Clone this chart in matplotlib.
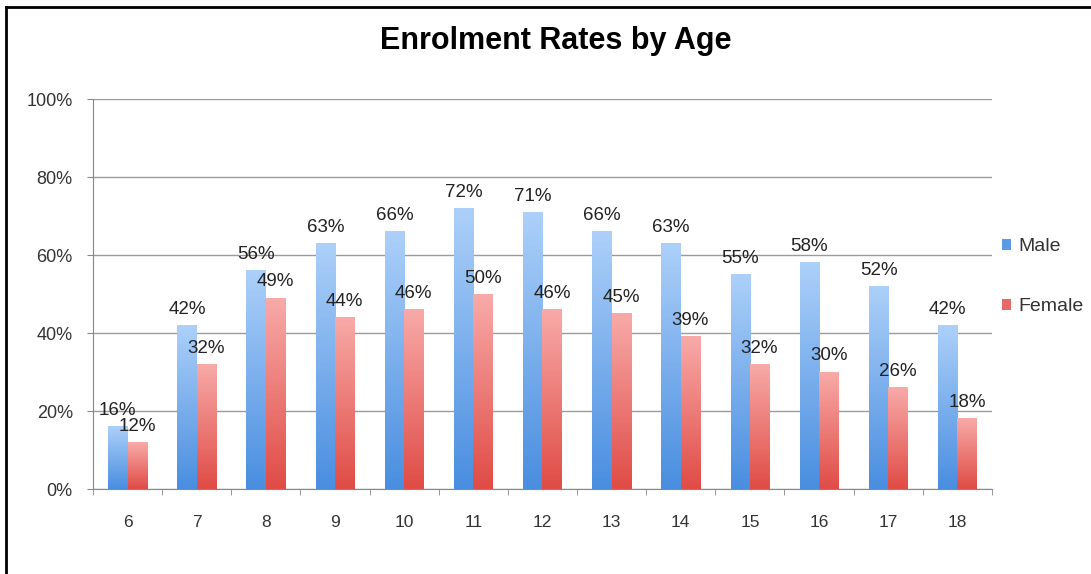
import numpy as np
import matplotlib.pyplot as plt
from matplotlib.colors import LinearSegmentedColormap
from matplotlib.lines import Line2D
from matplotlib.ticker import PercentFormatter

plt.rcParams['font.family'] = ['Liberation Sans', 'DejaVu Sans']

# Datos
edades = ['6', '7', '8', '9', '10', '11', '12', '13', '14', '15', '16', '17', '18']
hombres = [16, 42, 56, 63, 66, 72, 71, 66, 63, 55, 58, 52, 42]
mujeres = [12, 32, 49, 44, 46, 50, 46, 45, 39, 32, 30, 26, 18]
series = ['Male', 'Female']

azul = LinearSegmentedColormap.from_list('azul', ['#4a8ee0', '#acd0f9'])
rojo = LinearSegmentedColormap.from_list('rojo', ['#e04c46', '#f8aaa8'])

fig = plt.figure(figsize=(10.91, 5.74), dpi=100)
ax = fig.add_axes([0.0852, 0.148, 0.824, 0.679])

x = np.arange(len(edades))
w = 0.28
grad = np.linspace(0, 1, 100).reshape(-1, 1)

for vals, dx, cmap, col, nombre in [(hombres, -w / 2, azul, '#5b9be6', series[0]),
                                    (mujeres, w / 2, rojo, '#e86a66', series[1])]:
    barras = ax.bar(x + dx, vals, w, color=col, label=nombre, zorder=2)
    for b, v in zip(barras, vals):
        x0, y0 = b.get_x(), b.get_y()
        x1, y1 = x0 + b.get_width(), y0 + b.get_height()
        ax.imshow(grad, cmap=cmap, extent=[x0, x1, y0, y1], origin='lower',
                  aspect='auto', zorder=3)
        ax.annotate(f'{v}%', (b.get_x() + b.get_width() / 2, v),
                    xytext=(0, 5.5), textcoords='offset points',
                    ha='center', va='bottom', fontsize=13.5, color='#222222', zorder=5)

ax.set_xlim(-0.5, len(edades) - 0.5)
ax.set_ylim(0, 100)
ax.set_yticks(np.arange(0, 101, 20))
ax.yaxis.set_major_formatter(PercentFormatter(decimals=0))
ax.set_xticks(x)
ax.set_xticklabels(edades)
ax.set_xticks(np.arange(-0.5, len(edades), 1), minor=True)
ax.tick_params(axis='x', which='major', length=0, pad=19, labelsize=12.5, labelcolor='#333333')
ax.tick_params(axis='x', which='minor', length=4, color='#888888')
ax.tick_params(axis='y', length=4, color='#888888', pad=10.5, labelsize=13, labelcolor='#333333')
ax.grid(True, axis='y', color='#9a9a9a', linewidth=1, zorder=0)
ax.set_axisbelow(True)
for s in ['top', 'right']:
    ax.spines[s].set_visible(False)
for s in ['left', 'bottom']:
    ax.spines[s].set_color('#888888')

fig.suptitle('Enrolment Rates by Age', x=0.509, y=0.955, fontsize=22, fontweight='bold')

ax.legend(loc='center left', bbox_to_anchor=(1.0, 0.545), frameon=False, fontsize=14,
          labelcolor='#333333', handlelength=0.5, handleheight=0.5, handletextpad=0.35,
          labelspacing=2.2, borderpad=0, borderaxespad=0.5)

# marco
fig.add_artist(Line2D([0.0055, 0.0055], [0, 0.988], transform=fig.transFigure, color='black', lw=2))
fig.add_artist(Line2D([0.0055, 1], [0.988, 0.988], transform=fig.transFigure, color='black', lw=2))

fig.savefig('out.png', dpi=100)
